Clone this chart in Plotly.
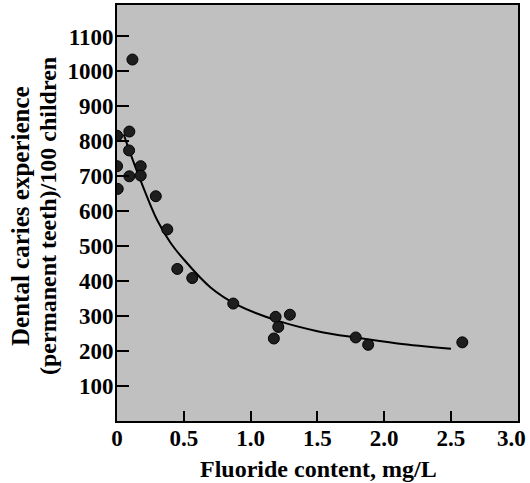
import plotly.graph_objects as go

# Observed data points (fluoride mg/L, caries per 100 children)
fluoride = [0.115, 0.00, 0.092, 0.09, 0.00, 0.092, 0.177, 0.177, 0.005, 0.29, 0.376,
            0.451, 0.563, 0.87, 1.187, 1.207, 1.174, 1.294, 1.787, 1.88, 2.585]
caries = [1034, 816, 828, 774, 729, 700, 729, 702, 664, 643, 548,
          435, 409, 336, 298, 269, 236, 304, 239, 218, 225]

# Fitted curve
curve_x = [0.05, 0.1, 0.2, 0.3, 0.4, 0.5, 0.7, 0.9, 1.2, 1.5, 1.8, 2.1, 2.5]
curve_y = [820, 765, 665, 575, 510, 462, 382, 332, 287, 257, 238, 222, 207]

x_ticks = [0, 0.5, 1.0, 1.5, 2.0, 2.5, 3.0]
x_labels = ["0", "0.5", "1.0", "1.5", "2.0", "2.5", "3.0"]
y_ticks = [100, 200, 300, 400, 500, 600, 700, 800, 900, 1000, 1100]

FONT = "Liberation Serif"
PLOT_L, PLOT_R, PLOT_T, PLOT_B = 117, 518, 5, 421
PW, PH = PLOT_R - PLOT_L, PLOT_B - PLOT_T

fig = go.Figure()
fig.add_trace(go.Scatter(x=curve_x, y=curve_y, mode="lines",
                         line=dict(color="black", width=2, shape="spline"),
                         hoverinfo="skip", showlegend=False))
fig.add_trace(go.Scatter(x=fluoride, y=caries, mode="markers",
                         marker=dict(size=11, color="#1e1e1e",
                                     line=dict(color="black", width=1)),
                         showlegend=False))

# last tick label sits against the right edge, so draw it as right-anchored text
axis_labels = x_labels[:-1] + [""]

fig.update_layout(
    width=530, height=483,
    margin=dict(l=PLOT_L, r=530 - PLOT_R, t=PLOT_T, b=483 - PLOT_B),
    paper_bgcolor="white",
    plot_bgcolor="#c0c0c0",
    font=dict(family=FONT, size=21, color="black"),
    xaxis=dict(range=[-0.0005, 3.002], tickvals=x_ticks, ticktext=axis_labels,
               ticks="inside", ticklen=10, tickwidth=2, tickcolor="black",
               showline=True, linecolor="black", linewidth=2, mirror=True,
               showgrid=False, zeroline=False, ticklabelstandoff=-5,
               ticklabeloverflow="allow", automargin=False,
               tickfont=dict(family=FONT, size=23, weight="bold")),
    yaxis=dict(range=[0, 1190], tickvals=y_ticks,
               ticks="inside", ticklen=12, tickwidth=2, tickcolor="black",
               showline=True, linecolor="black", linewidth=2, mirror=True,
               showgrid=False, zeroline=False, ticklabelstandoff=-3,
               ticklabeloverflow="allow", automargin=False,
               tickfont=dict(family=FONT, size=23, weight="bold")),
    annotations=[
        dict(text="<b>" + x_labels[-1] + "</b>",
             xref="x", yref="paper", x=x_ticks[-1], y=(PLOT_B - 438) / PH,
             xanchor="center", yanchor="middle", xshift=-6, showarrow=False,
             font=dict(family=FONT, size=23)),
        dict(text="<b>Fluoride content, mg/L</b>",
             xref="paper", yref="paper", x=(318 - PLOT_L) / PW, y=(PLOT_B - 469) / PH,
             xanchor="center", yanchor="middle", showarrow=False,
             font=dict(family=FONT, size=24)),
        dict(text="<b>Dental caries experience</b>", textangle=-90,
             xref="paper", yref="paper", x=(20 - PLOT_L) / PW, y=(PLOT_B - 216) / PH,
             xanchor="center", yanchor="middle", showarrow=False,
             font=dict(family=FONT, size=25)),
        dict(text="<b>(permanent teeth)/100 children</b>", textangle=-90,
             xref="paper", yref="paper", x=(48 - PLOT_L) / PW, y=(PLOT_B - 216) / PH,
             xanchor="center", yanchor="middle", showarrow=False,
             font=dict(family=FONT, size=24)),
    ],
)

fig.write_html("out.html", config={"displayModeBar": False},
               post_script="document.body.style.margin='0px';")
